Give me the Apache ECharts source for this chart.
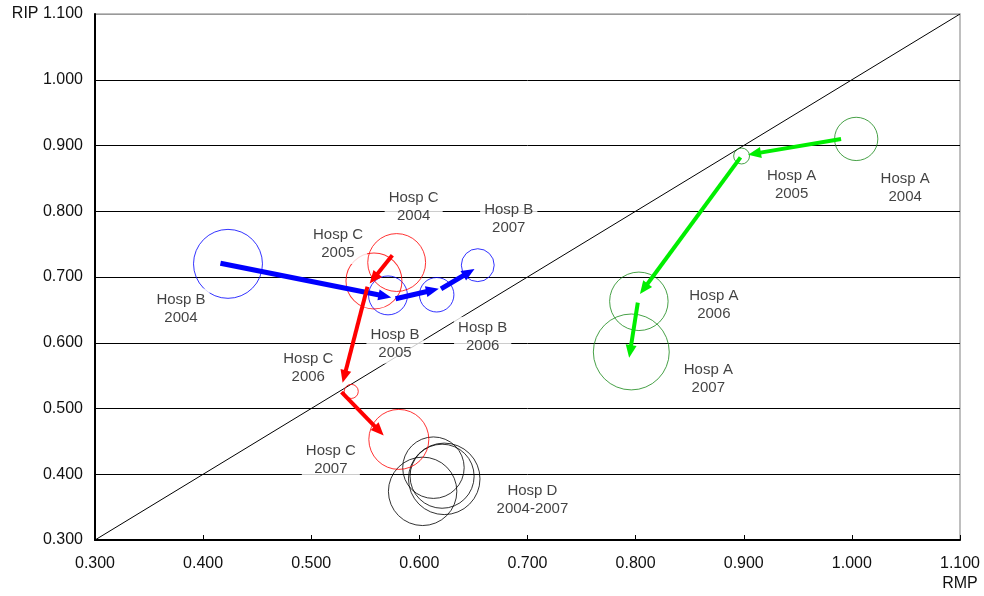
<!DOCTYPE html>
<html>
<head>
<meta charset="utf-8">
<script src="https://cdn.jsdelivr.net/npm/echarts@6/dist/echarts.min.js"></script>
<style>
  html, body { margin: 0; padding: 0; background: #fff; }
  #chart { width: 984px; height: 596px; }
</style>
</head>
<body>
<div id="chart"></div>
<script>
// Axis ticks (RMP on x, RIP on y)
const axisTicks = [0.3, 0.4, 0.5, 0.6, 0.7, 0.8, 0.9, 1.0, 1.1];
const years = ['2004', '2005', '2006', '2007'];

// Hospital A
const hospA_RMP = [1.004, 0.898, 0.803, 0.796];
const hospA_RIP = [0.910, 0.884, 0.663, 0.586];
const hospA_size = [52, 7, 95, 160];
const hospA_arrowFrom = [[0.990, 0.910], [0.897, 0.882], [0.802, 0.661]];
const hospA_arrowTo = [[0.904, 0.886], [0.804, 0.674], [0.794, 0.577]];

// Hospital B
const hospB_RMP = [0.423, 0.571, 0.616, 0.654];
const hospB_RIP = [0.720, 0.672, 0.673, 0.718];
const hospB_size = [132, 42, 33, 30];
const hospB_arrowFrom = [[0.416, 0.721], [0.578, 0.667], [0.620, 0.682]];
const hospB_arrowTo = [[0.574, 0.669], [0.618, 0.682], [0.651, 0.712]];

// Hospital C
const hospC_RMP = [0.579, 0.558, 0.537, 0.581];
const hospC_RIP = [0.722, 0.694, 0.526, 0.453];
const hospC_size = [93, 87, 5.5, 100];
const hospC_arrowFrom = [[0.575, 0.733], [0.552, 0.685], [0.528, 0.525]];
const hospC_arrowTo = [[0.554, 0.690], [0.529, 0.539], [0.567, 0.459]];

// Hospital D (2004-2007)
const hospD_RMP = [0.613, 0.603, 0.623, 0.621];
const hospD_RIP = [0.410, 0.374, 0.393, 0.397];
const hospD_size = [105, 130, 142, 114];

// Label placement relative to each bubble (px)
const labelOffsets = {
  A: [[49, 49], [50, 29], [75, 4], [77, 27]],
  B: [[-47, 45], [7, 48], [46, 42], [31, -46]],
  C: [[17, -56], [-36, -37], [-43, -24], [-68, 20]],
  D: [[99, 32], null, null, null]
};

const FONT = "'Liberation Sans', Arial, Helvetica, sans-serif";

function bubbleSeries(name, key, xs, ys, sizes, border, labelTexts) {
  return {
    name: name,
    type: 'scatter',
    z: 2,
    silent: true,
    symbol: 'circle',
    symbolSize: v => 6 * Math.sqrt(v[2]),
    itemStyle: { color: 'rgba(0,0,0,0)', borderColor: border, borderWidth: 1 },
    data: xs.map((x, i) => {
      const off = labelOffsets[key][i];
      const item = { value: [x, ys[i], sizes[i]] };
      if (off) {
        item.label = {
          show: true,
          position: 'inside',
          offset: off,
          formatter: labelTexts[i],
          fontFamily: FONT,
          fontSize: 15,
          lineHeight: 18,
          color: '#111',
          align: 'center',
          verticalAlign: 'middle',
          backgroundColor: '#fff',
          padding: [2, 4]
        };
      } else {
        item.label = { show: false };
      }
      return item;
    })
  };
}

function arrowSeries(from, to, color, width) {
  return {
    type: 'custom',
    z: 4,
    silent: true,
    data: from.map((p, i) => [p[0], p[1], to[i][0], to[i][1]]),
    renderItem: function (params, api) {
      const a = api.coord([api.value(0), api.value(1)]);
      const b = api.coord([api.value(2), api.value(3)]);
      const dx = b[0] - a[0], dy = b[1] - a[1];
      const len = Math.sqrt(dx * dx + dy * dy);
      const ux = dx / len, uy = dy / len;
      const headLen = 13, headHalf = 5.5;
      const base = [b[0] - ux * headLen, b[1] - uy * headLen];
      const lineEnd = [b[0] - ux * (headLen - 2), b[1] - uy * (headLen - 2)];
      return {
        type: 'group',
        children: [
          {
            type: 'line',
            shape: { x1: a[0], y1: a[1], x2: lineEnd[0], y2: lineEnd[1] },
            style: { stroke: color, lineWidth: width, lineCap: 'butt' }
          },
          {
            type: 'polygon',
            shape: {
              points: [
                b,
                [base[0] - uy * headHalf, base[1] + ux * headHalf],
                [base[0] + uy * headHalf, base[1] - ux * headHalf]
              ]
            },
            style: { fill: color }
          }
        ]
      };
    }
  };
}

const labelsFor = h => years.map(y => h + '\n' + y);

const chart = echarts.init(document.getElementById('chart'), null, { renderer: 'canvas' });

const option = {
  animation: false,
  backgroundColor: '#fff',
  grid: {
    left: 95, right: 24, top: 14, bottom: 56,
    show: true, borderColor: '#aaa', borderWidth: 1.5, backgroundColor: 'rgba(0,0,0,0)'
  },
  xAxis: {
    type: 'value',
    min: axisTicks[0], max: axisTicks[axisTicks.length - 1], interval: 0.1,
    axisLine: { show: true, onZero: false, lineStyle: { color: '#000', width: 2 } },
    axisTick: { show: true, inside: true, length: 5, lineStyle: { color: '#000', width: 1 } },
    splitLine: { show: false },
    axisLabel: {
      margin: 14,
      fontFamily: FONT, fontSize: 16, color: '#111', lineHeight: 20,
      showMinLabel: true, showMaxLabel: true,
      formatter: v => (Math.abs(v - 1.1) < 1e-9 ? v.toFixed(3) + '\nRMP' : v.toFixed(3))
    }
  },
  yAxis: {
    type: 'value',
    min: axisTicks[0], max: axisTicks[axisTicks.length - 1], interval: 0.1,
    axisLine: { show: true, onZero: false, lineStyle: { color: '#000', width: 2 } },
    axisTick: { show: false },
    splitLine: {
      show: true,
      lineStyle: { color: ['#000', '#000', '#000', '#000', '#000', '#000', '#000', '#000', '#999'], width: 1 }
    },
    axisLabel: {
      margin: 12,
      fontFamily: FONT, fontSize: 16, color: '#111',
      showMinLabel: true, showMaxLabel: true,
      formatter: v => (Math.abs(v - 1.1) < 1e-9 ? 'RIP ' + v.toFixed(3) : v.toFixed(3))
    }
  },
  series: [
    {
      // parity line RIP = RMP
      type: 'line',
      z: 1,
      silent: true,
      symbol: 'none',
      lineStyle: { color: '#000', width: 1 },
      data: [[axisTicks[0], axisTicks[0]], [axisTicks[axisTicks.length - 1], axisTicks[axisTicks.length - 1]]]
    },
    bubbleSeries('Hosp D', 'D', hospD_RMP, hospD_RIP, hospD_size, '#000', ['Hosp D\n2004-2007', '', '', '']),
    bubbleSeries('Hosp A', 'A', hospA_RMP, hospA_RIP, hospA_size, '#1a8a1a', labelsFor('Hosp A')),
    bubbleSeries('Hosp B', 'B', hospB_RMP, hospB_RIP, hospB_size, '#0000ff', labelsFor('Hosp B')),
    bubbleSeries('Hosp C', 'C', hospC_RMP, hospC_RIP, hospC_size, '#ff0000', labelsFor('Hosp C')),
    arrowSeries(hospA_arrowFrom, hospA_arrowTo, '#00ee00', 4),
    arrowSeries(hospB_arrowFrom, hospB_arrowTo, '#0000ff', 5),
    arrowSeries(hospC_arrowFrom, hospC_arrowTo, '#ff0000', 4)
  ]
};

chart.setOption(option);
</script>
</body>
</html>
